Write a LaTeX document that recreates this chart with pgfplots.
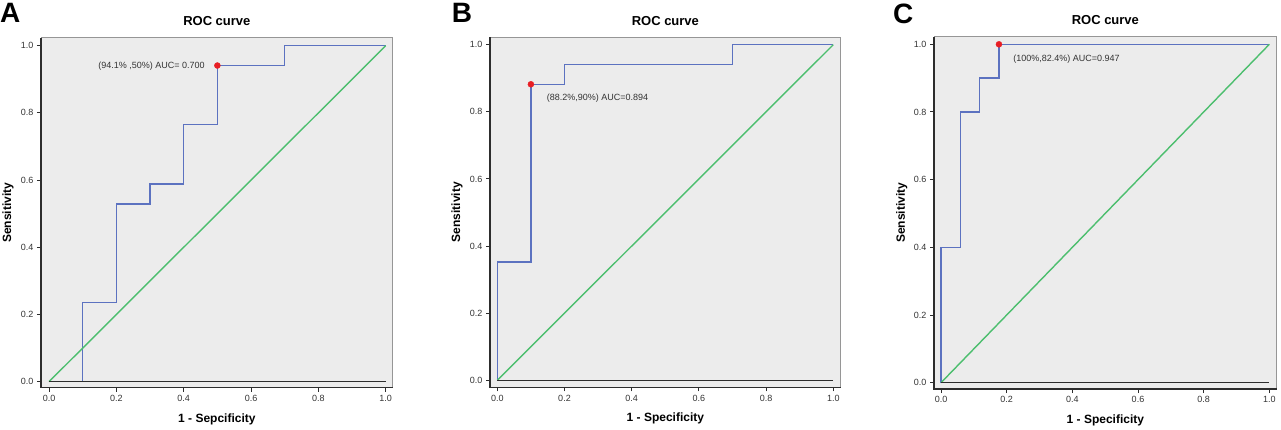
\documentclass[border=0pt]{standalone}
\usepackage{pgfplots}
\pgfplotsset{compat=1.18}
\usepackage{fontspec}
\setmainfont{Liberation Sans}
\definecolor{rocblue}{RGB}{92,114,192}
\definecolor{rocgreen}{RGB}{76,190,110}
\definecolor{rocred}{RGB}{232,30,36}
\definecolor{bggray}{RGB}{236,236,236}
\definecolor{framegray}{RGB}{150,150,150}
\definecolor{framedark}{RGB}{45,45,45}
\pgfplotsset{
  rocax/.style={
    scale only axis,
    anchor=south west,
    clip=false,
    axis background/.style={fill=bggray},
    axis line style={draw=framegray, line width=1pt},
    xtick={0,0.2,0.4,0.6,0.8,1.0},
    ytick={0,0.2,0.4,0.6,0.8,1.0},
    tick align=outside,
    tick pos=left,
    major tick length=4pt,
    every tick/.style={draw=framedark, line width=1pt},
    /pgf/number format/assume math mode=true,
    /pgf/number format/.cd, fixed, fixed zerofill, precision=1, /pgfplots/.cd,
    tick label style={font=\fontsize{9}{10}\selectfont, text=black!80},
    title style={at={(axis description cs:0.5,1.03)}, anchor=center, font=\bfseries\fontsize{13}{15}\selectfont},
    xlabel style={at={(axis description cs:0.5,-0.09)}, anchor=center, font=\bfseries\fontsize{12}{14}\selectfont},
    ylabel style={at={(axis description cs:-0.094,0.5)}, anchor=center, rotate=0, font=\bfseries\fontsize{12}{14}\selectfont},
    title={ROC curve},
    ylabel={Sensitivity},
  },
}
\begin{document}
\begin{tikzpicture}
\path[use as bounding box] (0pt,0pt) rectangle (1281pt,-429pt);
% ---------------- Panel A
\begin{axis}[rocax, at={(41pt,-387.7pt)}, width=351.7pt, height=350pt,
  xmin=-0.0238, xmax=1.0208, ymin=-0.0179, ymax=1.0238,
  xlabel={1 - Sepcificity}]
\addplot[rocblue, line width=1.4pt] coordinates {(0,0) (0.1,0) (0.1,0.235) (0.2,0.235) (0.2,0.529) (0.3,0.529) (0.3,0.588) (0.4,0.588) (0.4,0.765) (0.5,0.765) (0.5,0.941) (0.7,0.941) (0.7,1.0) (1,1)};
\addplot[rocgreen, line width=1.4pt] coordinates {(0,0) (1,1)};
\addplot[framedark, line width=1pt] coordinates {(0,0) (1,0)};
\addplot[only marks, mark=*, mark size=3pt, rocred] coordinates {(0.5,0.941)};
\node[anchor=east, font=\fontsize{9}{10}\selectfont, text=black!80, inner sep=0pt] at (axis cs:0.463,0.940) {(94.1\% ,50\%) AUC= 0.700};
\draw[framedark, line width=1.1pt] (rel axis cs:0,1) -- (rel axis cs:0,0) -- (rel axis cs:1,0);
\end{axis}
% ---------------- Panel B
\begin{axis}[rocax, at={(490pt,-387.3pt)}, width=350.7pt, height=350pt,
  xmin=-0.0217, xmax=1.022, ymin=-0.0209, ymax=1.022,
  xlabel={1 - Specificity}]
\addplot[rocblue, line width=1.4pt] coordinates {(0,0) (0,0.353) (0.1,0.353) (0.1,0.882) (0.2,0.882) (0.2,0.941) (0.7,0.941) (0.7,1.0) (1,1)};
\addplot[rocgreen, line width=1.4pt] coordinates {(0,0) (1,1)};
\addplot[framedark, line width=1pt] coordinates {(0,0) (1,0)};
\addplot[only marks, mark=*, mark size=3pt, rocred] coordinates {(0.1,0.882)};
\node[anchor=west, font=\fontsize{9}{10}\selectfont, text=black!80, inner sep=0pt] at (axis cs:0.147,0.841) {(88.2\%,90\%) AUC=0.894};
\draw[framedark, line width=1.1pt] (rel axis cs:0,1) -- (rel axis cs:0,0) -- (rel axis cs:1,0);
\end{axis}
% ---------------- Panel C
\begin{axis}[rocax, at={(934pt,-389pt)}, width=342.7pt, height=352.3pt,
  xmin=-0.0213, xmax=1.0225, ymin=-0.0186, ymax=1.0225,
  xlabel={1 - Specificity}]
\addplot[rocblue, line width=1.4pt] coordinates {(0,0) (0,0.4) (0.0588,0.4) (0.0588,0.8) (0.1176,0.8) (0.1176,0.9) (0.1765,0.9) (0.1765,1.0) (1,1)};
\addplot[rocgreen, line width=1.4pt] coordinates {(0,0) (1,1)};
\addplot[framedark, line width=1pt] coordinates {(0,0) (1,0)};
\addplot[only marks, mark=*, mark size=3pt, rocred] coordinates {(0.1765,1.0)};
\node[anchor=west, font=\fontsize{9}{10}\selectfont, text=black!80, inner sep=0pt] at (axis cs:0.22,0.956) {(100\%,82.4\%) AUC=0.947};
\draw[framedark, line width=1.1pt] (rel axis cs:0,1) -- (rel axis cs:0,0) -- (rel axis cs:1,0);
\end{axis}
% panel letters
\node[anchor=north west, inner sep=0pt, font=\bfseries\fontsize{28}{30}\selectfont] at (0pt,-3.3pt) {A};
\node[anchor=north west, inner sep=0pt, font=\bfseries\fontsize{28}{30}\selectfont] at (451.7pt,-3.3pt) {B};
\node[anchor=north west, inner sep=0pt, font=\bfseries\fontsize{28}{30}\selectfont] at (893pt,-4pt) {C};
\end{tikzpicture}
\end{document}
